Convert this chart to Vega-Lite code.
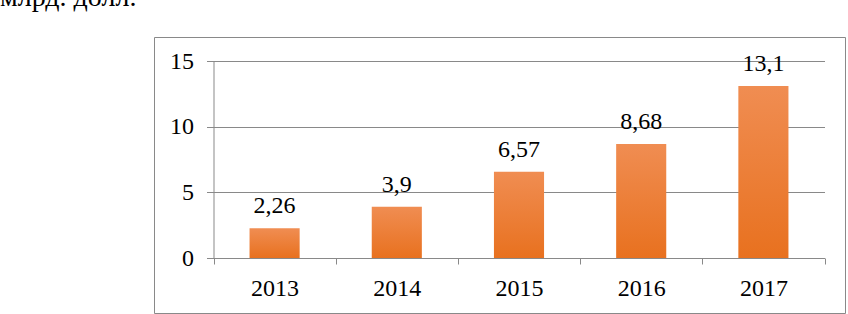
{
  "$schema": "https://vega.github.io/schema/vega-lite/v6.json",
  "width": 691,
  "height": 276,
  "autosize": {"type": "none"},
  "padding": {"left": 154, "top": 37, "right": 3, "bottom": 1},
  "background": "white",
  "title": {
    "text": "млрд. долл.",
    "anchor": "start",
    "frame": "group",
    "dx": -154,
    "offset": 3.5,
    "baseline": "alphabetic",
    "font": "Liberation Serif",
    "fontSize": 28,
    "fontWeight": "normal",
    "color": "black"
  },
  "data": {
    "values": [
      {"year": "2013", "value": 2.26},
      {"year": "2014", "value": 3.9},
      {"year": "2015", "value": 6.57},
      {"year": "2016", "value": 8.68},
      {"year": "2017", "value": 13.1}
    ]
  },
  "encoding": {
    "x": {
      "field": "year",
      "type": "ordinal",
      "title": null,
      "scale": {"range": [59.5, 670.5], "paddingInner": 0, "paddingOuter": 0},
      "axis": {
        "orient": "bottom",
        "offset": -55,
        "labelAngle": 0,
        "tickBand": "extent",
        "tickSize": 6,
        "tickColor": "#898989",
        "domainColor": "#898989",
        "labelPadding": 12,
        "labelFont": "Liberation Serif",
        "labelFontSize": 24,
        "labelColor": "black"
      }
    },
    "y": {
      "field": "value",
      "type": "quantitative",
      "title": null,
      "scale": {"domain": [0, 15], "range": [221, 24], "nice": false, "zero": true},
      "axis": {
        "values": [0, 5, 10, 15],
        "offset": -59.5,
        "tickSize": 7,
        "tickColor": "#898989",
        "domainColor": "#898989",
        "gridColor": "#898989",
        "grid": true,
        "labelPadding": 13,
        "labelFont": "Liberation Serif",
        "labelFontSize": 24,
        "labelColor": "black"
      }
    }
  },
  "layer": [
    {
      "mark": {
        "type": "bar",
        "width": {"band": 0.41},
        "color": {
          "gradient": "linear",
          "x1": 0, "y1": 0, "x2": 0, "y2": 1,
          "stops": [
            {"offset": 0, "color": "#F08D52"},
            {"offset": 1, "color": "#E8711F"}
          ]
        }
      }
    },
    {
      "mark": {
        "type": "text",
        "dy": -15,
        "baseline": "alphabetic",
        "font": "Liberation Serif",
        "fontSize": 24,
        "color": "black"
      },
      "encoding": {
        "text": {"field": "value", "type": "quantitative", "format": "~g"}
      }
    }
  ],
  "config": {
    "locale": {
      "number": {"decimal": ",", "thousands": " ", "grouping": [3], "currency": ["", ""]}
    },
    "axis": {"grid": false},
    "view": {"stroke": "#898989", "strokeWidth": 1}
  }
}
